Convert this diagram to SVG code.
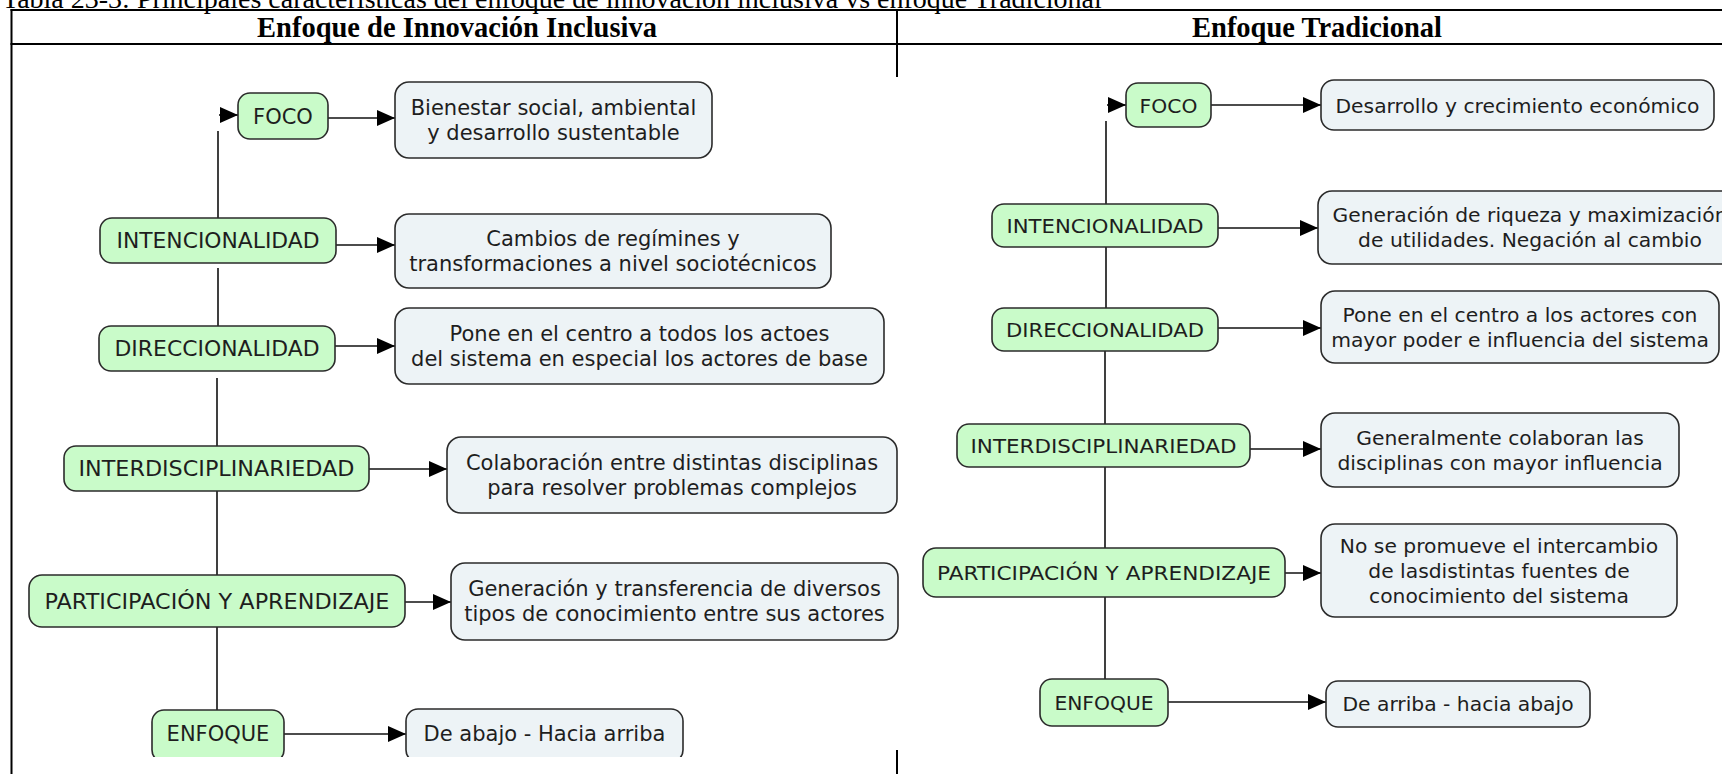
<svg xmlns="http://www.w3.org/2000/svg" width="1722" height="774" viewBox="0 0 1722 774">
<style>
.tbl{stroke:#000;stroke-width:2;fill:none}
.cap{font-family:"Liberation Serif","Times New Roman",serif;font-size:28px;fill:#000}
.hdr{font-family:"Liberation Serif","Times New Roman",serif;font-size:28.5px;font-weight:bold;fill:#000;text-anchor:middle}
.node rect{fill:#c9fbc9;stroke:#2b2b2b;stroke-width:1.6}
.desc rect{fill:#edf3f6;stroke:#2b2b2b;stroke-width:1.6}
.node text,.desc text{font-family:"DejaVu Sans",Verdana,sans-serif;font-size:21px;fill:#1e1e1e;text-anchor:middle}
.r text{font-size:20.3px}
.ln{stroke:#111;stroke-width:1.6;fill:none}
.ar{stroke:#111;stroke-width:1.6;fill:none;marker-end:url(#ah)}
</style>
<defs>
<marker id="ah" markerUnits="userSpaceOnUse" markerWidth="18" markerHeight="16" refX="18" refY="8" orient="auto"><path d="M0,0 L18,8 L0,16 Z" fill="#000"/></marker>
<clipPath id="clipL"><rect x="0" y="0" width="900" height="757"/></clipPath>
</defs>
<rect width="1722" height="774" fill="#fff"/>
<g id="table">
<text class="cap" x="2" y="8">Tabla 23-3: Principales características del enfoque de innovación inclusiva vs enfoque Tradicional</text>
<line class="tbl" x1="10.5" y1="10" x2="1722" y2="10"/>
<line class="tbl" x1="10.5" y1="44" x2="1722" y2="44"/>
<line class="tbl" x1="11.5" y1="9" x2="11.5" y2="774"/>
<line class="tbl" x1="897" y1="10" x2="897" y2="77"/>
<line class="tbl" x1="897" y1="750" x2="897" y2="774"/>
<text class="hdr" x="457" y="37">Enfoque de Innovación Inclusiva</text>
<text class="hdr" x="1317" y="37">Enfoque Tradicional</text>
</g>
<g id="connectors">
<path class="ln" d="M218,131 V218 M218,268 V326 M217,378 V446 M217,491 V575 M217,627 V710"/>
<path class="ar" d="M219,115 H238"/>
<path class="ar" d="M328,118 H395"/>
<path class="ar" d="M336,245 H395"/>
<path class="ar" d="M335,346 H395"/>
<path class="ar" d="M369,469 H447"/>
<path class="ar" d="M405,602 H451"/>
<path class="ar" d="M284,734 H406"/>
<path class="ln" d="M1106,121 V204 M1106,247 V308 M1105,351 V424 M1105,467 V548 M1105,597 V679"/>
<path class="ar" d="M1107,105 H1126"/>
<path class="ar" d="M1211,105 H1321"/>
<path class="ar" d="M1218,228 H1318"/>
<path class="ar" d="M1218,328 H1321"/>
<path class="ar" d="M1250,449 H1321"/>
<path class="ar" d="M1285,573 H1321"/>
<path class="ar" d="M1168,702 H1326"/>
</g>
<g id="l-foco" class="node"><rect x="238" y="93" width="90" height="46" rx="12"/><text x="283" y="123.5">FOCO</text></g>
<g id="l-foco-d" class="desc"><rect x="395" y="82" width="317" height="76" rx="14"/><text x="553.5" y="115">Bienestar social, ambiental</text><text x="553.5" y="140">y desarrollo sustentable</text></g>
<g id="l-int" class="node"><rect x="100" y="218" width="236" height="45" rx="12"/><text x="218" y="248" textLength="203" lengthAdjust="spacingAndGlyphs">INTENCIONALIDAD</text></g>
<g id="l-int-d" class="desc"><rect x="395" y="214" width="436" height="74" rx="14"/><text x="613" y="246">Cambios de regímines y</text><text x="613" y="271">transformaciones a nivel sociotécnicos</text></g>
<g id="l-dir" class="node"><rect x="99" y="326" width="236" height="45" rx="12"/><text x="217" y="356" textLength="205" lengthAdjust="spacingAndGlyphs">DIRECCIONALIDAD</text></g>
<g id="l-dir-d" class="desc"><rect x="395" y="308" width="489" height="76" rx="14"/><text x="639.5" y="341">Pone en el centro a todos los actoes</text><text x="639.5" y="366">del sistema en especial los actores de base</text></g>
<g id="l-inter" class="node"><rect x="64" y="446" width="305" height="45" rx="12"/><text x="216.5" y="476" textLength="276" lengthAdjust="spacingAndGlyphs">INTERDISCIPLINARIEDAD</text></g>
<g id="l-inter-d" class="desc"><rect x="447" y="437" width="450" height="76" rx="14"/><text x="672" y="470">Colaboración entre distintas disciplinas</text><text x="672" y="495">para resolver problemas complejos</text></g>
<g id="l-part" class="node"><rect x="29" y="575" width="376" height="52" rx="13"/><text x="217" y="608.5" textLength="345" lengthAdjust="spacingAndGlyphs">PARTICIPACIÓN Y APRENDIZAJE</text></g>
<g id="l-part-d" class="desc"><rect x="451" y="563" width="447" height="77" rx="14"/><text x="674.5" y="596">Generación y transferencia de diversos</text><text x="674.5" y="621">tipos de conocimiento entre sus actores</text></g>
<g id="l-enf" class="node" clip-path="url(#clipL)"><rect x="152" y="710" width="132" height="52" rx="12"/><text x="218" y="741">ENFOQUE</text></g>
<g id="l-enf-d" class="desc" clip-path="url(#clipL)"><rect x="406" y="709" width="277" height="53" rx="12"/><text x="544.5" y="741">De abajo - Hacia arriba</text></g>
<g id="r-foco" class="node r"><rect x="1126" y="83" width="85" height="44" rx="12"/><text x="1168.5" y="112.5">FOCO</text></g>
<g id="r-foco-d" class="desc r"><rect x="1321" y="80" width="393" height="50" rx="13"/><text x="1517.5" y="112.5">Desarrollo y crecimiento económico</text></g>
<g id="r-int" class="node r"><rect x="992" y="204" width="226" height="43" rx="12"/><text x="1105" y="233" textLength="197" lengthAdjust="spacingAndGlyphs">INTENCIONALIDAD</text></g>
<g id="r-int-d" class="desc r"><rect x="1318" y="191" width="424" height="73" rx="14"/><text x="1530" y="222">Generación de riqueza y maximización</text><text x="1530" y="247">de utilidades. Negación al cambio</text></g>
<g id="r-dir" class="node r"><rect x="992" y="308" width="226" height="43" rx="12"/><text x="1105" y="337" textLength="198" lengthAdjust="spacingAndGlyphs">DIRECCIONALIDAD</text></g>
<g id="r-dir-d" class="desc r"><rect x="1321" y="291" width="398" height="72" rx="14"/><text x="1520" y="321.5">Pone en el centro a los actores con</text><text x="1520" y="346.5">mayor poder e influencia del sistema</text></g>
<g id="r-inter" class="node r"><rect x="957" y="424" width="293" height="43" rx="12"/><text x="1103.5" y="453" textLength="266" lengthAdjust="spacingAndGlyphs">INTERDISCIPLINARIEDAD</text></g>
<g id="r-inter-d" class="desc r"><rect x="1321" y="413" width="358" height="74" rx="14"/><text x="1500" y="444.5">Generalmente colaboran las</text><text x="1500" y="469.5">disciplinas con mayor influencia</text></g>
<g id="r-part" class="node r"><rect x="923" y="548" width="362" height="49" rx="13"/><text x="1104" y="580" textLength="334" lengthAdjust="spacingAndGlyphs">PARTICIPACIÓN Y APRENDIZAJE</text></g>
<g id="r-part-d" class="desc r"><rect x="1321" y="524" width="356" height="93" rx="14"/><text x="1499" y="552.5">No se promueve el intercambio</text><text x="1499" y="577.5">de lasdistintas fuentes de</text><text x="1499" y="602.5">conocimiento del sistema</text></g>
<g id="r-enf" class="node r"><rect x="1040" y="679" width="128" height="47" rx="12"/><text x="1104" y="710">ENFOQUE</text></g>
<g id="r-enf-d" class="desc r"><rect x="1326" y="681" width="264" height="46" rx="12"/><text x="1458" y="711">De arriba - hacia abajo</text></g>
</svg>
